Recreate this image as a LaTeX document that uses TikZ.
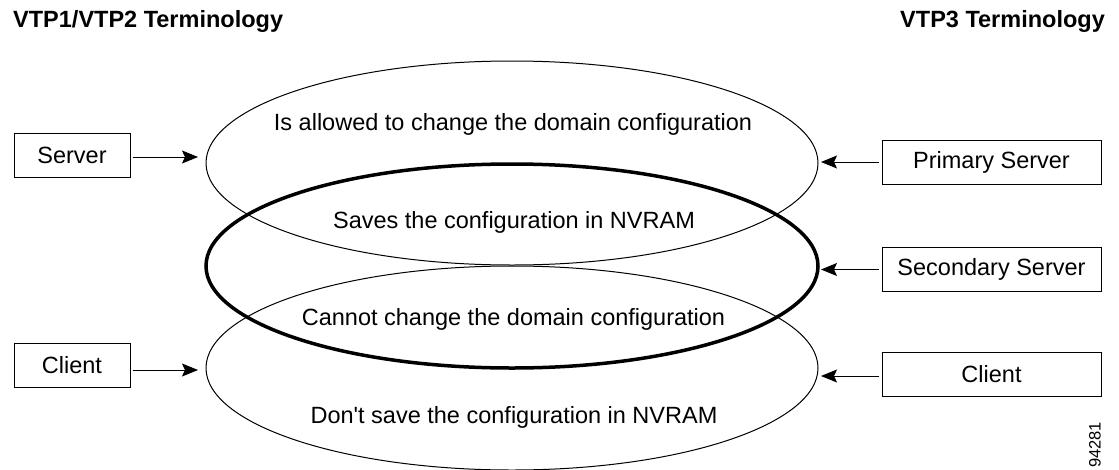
\documentclass[tikz,border=0pt]{standalone}
\usepackage{fontspec}
\newfontfamily\lsans{Liberation Sans}
\usetikzlibrary{shapes.geometric,arrows.meta}
\begin{document}
\begin{tikzpicture}[x=1pt,y=-1pt,
  lbl/.style={font=\lsans\fontsize{23.5}{28}\selectfont, inner sep=0pt},
  ttl/.style={font=\lsans\fontsize{23.5}{28}\selectfont\bfseries, inner sep=0pt},
  boxl/.style={draw, line width=1pt, minimum width=116pt, minimum height=44pt, inner sep=0pt, font=\lsans\fontsize{23.5}{28}\selectfont},
  boxr/.style={boxl, minimum width=219pt},
  ring/.style={ellipse, draw, line width=1pt, minimum width=612pt, minimum height=204pt, inner sep=0pt, outer sep=0pt},
  arr/.style={-{Stealth[length=16pt,width=13pt,inset=3pt]}, line width=1pt}]
\useasboundingbox (0,0) rectangle (1119,469);
% ellipses
\node[ring] (top) at (512,163) {};
\node[ring, line width=3.5pt] (mid) at (512,266) {};
\node[ring] (bot) at (512,368) {};
% ellipse texts
\node[lbl, anchor=base] (t1) at (513,130) {Is allowed to change the domain configuration};
\node[lbl, anchor=base] (t2) at (514,228) {Saves the configuration in NVRAM};
\node[lbl, anchor=base] (t3) at (513.5,325) {Cannot change the domain configuration};
\node[lbl, anchor=base] (t4) at (514,423) {Don't save the configuration in NVRAM};
% titles
\node[ttl, anchor=base west] (h1) at (13,27) {VTP1/VTP2 Terminology};
\node[ttl, anchor=base east] (h2) at (1105,27) {VTP3 Terminology};
% boxes
\node[boxl] (srv) at (72,155) {Server};
\node[boxl] (cli) at (72,365) {Client};
\node[boxr] (psrv) at (991.5,162) {Primary Server};
\node[boxr] (ssrv) at (991.5,269.5) {Secondary Server};
\node[boxr] (cli3) at (991.5,374) {Client};
% arrows
\draw[arr, shorten <=2pt, shorten >=8pt] ([yshift=-2pt]srv.east) -- ([yshift=-2pt]srv.east -| top.west);
\draw[arr, shorten <=2pt, shorten >=8pt] ([yshift=-5pt]cli.east) -- ([yshift=-5pt]cli.east -| bot.west);
\draw[arr, shorten <=3pt, shorten >=3pt] (psrv.west) -- (psrv.west -| top.east);
\draw[arr, shorten <=3pt, shorten >=3pt] (ssrv.west) -- (ssrv.west -| mid.east);
\draw[arr, shorten <=3pt, shorten >=3pt] ([yshift=-2pt]cli3.west) -- ([yshift=-2pt]cli3.west -| bot.east);
% figure number
\node[font=\lsans\fontsize{16.5}{18}\selectfont, rotate=90, inner sep=0pt] (fig) at (1095,445) {94281};
\end{tikzpicture}
\end{document}
